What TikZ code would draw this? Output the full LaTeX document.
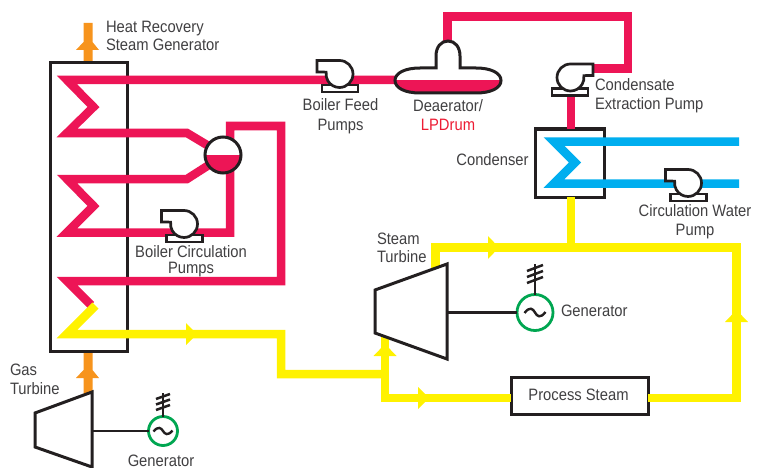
\documentclass[tikz,border=0pt]{standalone}
\usepackage{fontspec}
\setmainfont[FakeStretch=0.895]{Liberation Sans}
\definecolor{pipered}{HTML}{ED1556}
\definecolor{pipeyellow}{HTML}{FFF200}
\definecolor{pipeblue}{HTML}{00AEEF}
\definecolor{gasorange}{HTML}{F7941D}
\definecolor{gengreen}{HTML}{00A651}
\definecolor{ink}{HTML}{231F20}
\definecolor{labelgrey}{HTML}{414042}
\definecolor{lpred}{HTML}{ED1C34}
\tikzset{
  pipe/.style={line width=8.5pt,miter limit=10},
  redpipe/.style={pipe,draw=pipered},
  yellowpipe/.style={pipe,draw=pipeyellow},
  bluepipe/.style={pipe,draw=pipeblue},
  outline/.style={draw=ink,line width=3pt,line join=miter},
  boxnode/.style={outline,rectangle,inner sep=0pt,outer sep=0pt},
  shaftline/.style={draw=ink,line width=2.5pt},
  gennode/.style={circle,draw=gengreen,fill=white,line width=2.8pt,inner sep=0pt,outer sep=0pt},
  lab/.style={text=labelgrey,font=\fontsize{16.5}{16.5}\selectfont,inner sep=0pt,outer sep=0pt,text height=12pt,text depth=0pt},
  flowmark/.style={fill=pipeyellow},
  pumpline/.style={draw=ink,line width=2.7pt,fill=white,line join=miter},
}
\newcommand{\pumpsym}[3]{%
  \begin{scope}[shift={(#1,#2)},xscale=#3]
    \path[pumpline] (-17.5,11) rectangle (18.5,18);
    \path[pumpline] (-22.5,-13.5) -- (0,-13.5) arc[start angle=-90,end angle=188,radius=13.5] -- (-22.5,-2) -- cycle;
  \end{scope}}
\newcommand{\gensym}[4]{%
  \draw[ink,line width=2.4pt] (#1-#3,#2+0.5) .. controls (#1-#3*0.5,#2-#4*2) and (#1-#3*0.2,#2-#4*1.2) .. (#1,#2) .. controls (#1+#3*0.2,#2+#4*1.2) and (#1+#3*0.5,#2+#4*2) .. (#1+#3,#2-0.5);}
\begin{document}
\begin{tikzpicture}[x=1pt,y=-1pt]
\useasboundingbox (0,0) rectangle (765,468);
\fill[white] (0,0) rectangle (765,468);

% exhaust and gas path
\fill[gasorange] (83.5,23) -- (92.5,23) -- (92.5,42) -- (99,50) -- (92.5,50) -- (92.5,64) -- (83.5,64) -- (83.5,50) -- (76,50) -- (83.5,42) -- cycle;
\fill[gasorange] (83.5,350) -- (92.5,350) -- (92.5,370) -- (99,378) -- (92.5,378) -- (92.5,396) -- (83.5,396) -- (83.5,378) -- (76,378) -- (83.5,370) -- cycle;

% boxes
\node[boxnode,minimum width=77pt,minimum height=288pt] (hrsg) at (88.5,207) {};
\node[boxnode,minimum width=69pt,minimum height=68pt,fill=white] (condenser) at (569.5,163) {};

% named pipe ends
\coordinate (drumIn1) at (212,148);
\coordinate (drumIn2) at (212,163);

% red pipework
\draw[redpipe] (400,80) -- (67,80) -- (93.5,107) -- (67,133) -- (187,133) -- (drumIn1);
\draw[redpipe] (drumIn2) -- (187,179) -- (67,179) -- (93.5,206) -- (67,232.5) -- (230,232.5) -- (230,126) -- (281,126) -- (281,281) -- (67,281) -- (91,305);
\draw[redpipe] (447.5,45) -- (447.5,16.5) -- (628,16.5) -- (628,68.5) -- (585,68.5);
\draw[redpipe] (571,0 |- condenser.north) -- (571,90);

% blue pipework
\draw[bluepipe] (739,141.5) -- (554,141.5) -- (575,162.5) -- (554,183.5) -- (739,183.5);

% yellow pipework
\draw[yellowpipe] (95.5,305.5) -- (67,334) -- (281,334) -- (281,374) -- (385,374);
\node[boxnode,minimum width=137pt,minimum height=37pt,fill=white] (process) at (579.5,395.5) {};
\draw[yellowpipe] (385,336) -- (385,398) -- (process.west |- 0,398);
\draw[yellowpipe] (435.5,275) -- (435.5,247.5) -- (736.5,247.5) -- (736.5,398) -- (process.east |- 0,398);
\draw[yellowpipe] (571,0 |- condenser.south) -- (571,247.5);
% flow marks
\fill[flowmark] (186,323) -- (197,334) -- (186,345) -- cycle;
\fill[flowmark] (488,236) -- (499,247.5) -- (488,259) -- cycle;
\fill[flowmark] (418,387) -- (429,398) -- (418,409) -- cycle;
\fill[flowmark] (373.5,356) -- (385,344) -- (396.5,356) -- cycle;
\fill[flowmark] (725,322) -- (736.5,310) -- (748,322) -- cycle;

% steam drum
\node[circle,draw=none,fill=white,minimum size=36pt,inner sep=0pt,outer sep=0pt] (drum) at (223,155) {};
\begin{scope}
  \clip (200,155) rectangle (246,180);
  \fill[pipered] (drum.center) circle[radius=18];
\end{scope}
\draw[outline] (drum.center) circle[radius=18];

% deaerator
\def\deaerator{(395,80.5) .. controls (395,73) and (405,68) .. (420,68) -- (436,68) -- (436,56) .. controls (436,47) and (441,41) .. (448,41) .. controls (455,41) and (460,47) .. (460,56) -- (460,68) -- (476,68) .. controls (491,68) and (501,73) .. (501,80.5) .. controls (501,88) and (491,93) .. (476,93) -- (420,93) .. controls (405,93) and (395,88) .. (395,80.5) -- cycle}
\fill[white] \deaerator;
\begin{scope}
  \clip (390,81) rectangle (506,98);
  \fill[pipered] \deaerator;
\end{scope}
\draw[outline] \deaerator;

% pumps
\pumpsym{339.5}{74}{1}
\pumpsym{184}{224}{1}
\pumpsym{570.5}{77.5}{-1}
\pumpsym{688}{183}{1}

% steam turbine and generator
\path[outline,fill=white] (375,290) -- (447,264) -- (447,359) -- (375,333) -- cycle;
\node[gennode,minimum size=36pt] (genST) at (535,312.5) {};
\coordinate (stShaft) at (447,0 |- genST.west);
\draw[shaftline] (stShaft) -- (genST.west);
\coordinate (stMast) at (535,264);
\draw[shaftline] (genST.north) -- (stMast);
\draw[shaftline] (527,271) -- (543,265) (527,277) -- (543,271) (527,283) -- (543,277);
\gensym{535}{312.5}{10.5}{3.2}

% gas turbine and generator
\path[outline,fill=white] (35,413) -- (92,392) -- (92,467) -- (35,447) -- cycle;
\node[gennode,minimum size=29pt] (genGT) at (163,431) {};
\coordinate (gtShaft) at (92,0 |- genGT.west);
\draw[shaftline] (gtShaft) -- (genGT.west);
\coordinate (gtMast) at (163,393);
\draw[shaftline] (genGT.north) -- (gtMast);
\draw[shaftline] (156,399) -- (170,394) (156,404.5) -- (170,399.5) (156,410) -- (170,405);
\gensym{163}{431}{9.5}{2.6}

% labels
\node[lab,anchor=west] (l1) at (106,27) {Heat Recovery};
\node[lab,anchor=west] (l2) at (106,45) {Steam Generator};
\node[lab] (l3) at (340.5,105) {Boiler Feed};
\node[lab] (l4) at (340.5,125) {Pumps};
\node[lab] (l5) at (448,106) {Deaerator/};
\node[lab,text=lpred] (l6) at (448,125) {LPDrum};
\node[lab,anchor=west] (l7) at (595,85) {Condensate};
\node[lab,anchor=west] (l8) at (595,104) {Extraction Pump};
\node[lab] (l9) at (492.5,159) {Condenser};
\node[lab] (l10) at (695,210) {Circulation Water};
\node[lab] (l11) at (695,229) {Pump};
\node[lab] (l12) at (191,251) {Boiler Circulation};
\node[lab] (l13) at (191,267) {Pumps};
\node[lab,anchor=west] (l14) at (377,238) {Steam};
\node[lab,anchor=west] (l15) at (377,256) {Turbine};
\node[lab,anchor=west] (l16) at (561,310) {Generator};
\node[lab] (l17) at (578.5,394) {Process Steam};
\node[lab,anchor=west] (l18) at (10,369) {Gas};
\node[lab,anchor=west] (l19) at (10,388) {Turbine};
\node[lab] (l20) at (161,460) {Generator};
\end{tikzpicture}
\end{document}
